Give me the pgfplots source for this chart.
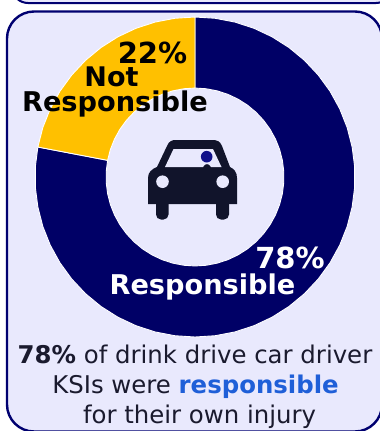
\documentclass[border=0pt]{standalone}
\usepackage{pgfplots}
\usepackage{pgfplotstable}
\usepackage{fontspec}
\setmainfont{DejaVu Sans}
\pgfplotsset{compat=1.18}
\usepgfplotslibrary{polar}
\definecolor{panelfill}{HTML}{E9E9FD}
\definecolor{panelline}{HTML}{000070}
\definecolor{resp}{HTML}{000066}
\definecolor{notresp}{HTML}{FFC000}
\definecolor{carbody}{HTML}{11142B}
\definecolor{driver}{HTML}{10108A}
\definecolor{bodytext}{HTML}{1A1A2E}
\definecolor{hilite}{HTML}{1F5FD8}
% Ring outlines: share of casualties (clockwise from the top) and radius
\pgfplotstableread{
pct r
0 1
2 1
4 1
6 1
8 1
10 1
12 1
14 1
16 1
18 1
20 1
22 1
24 1
26 1
28 1
30 1
32 1
34 1
36 1
38 1
40 1
42 1
44 1
46 1
48 1
50 1
52 1
54 1
56 1
58 1
60 1
62 1
64 1
66 1
68 1
70 1
72 1
74 1
76 1
78 1
78 0.556
76 0.556
74 0.556
72 0.556
70 0.556
68 0.556
66 0.556
64 0.556
62 0.556
60 0.556
58 0.556
56 0.556
54 0.556
52 0.556
50 0.556
48 0.556
46 0.556
44 0.556
42 0.556
40 0.556
38 0.556
36 0.556
34 0.556
32 0.556
30 0.556
28 0.556
26 0.556
24 0.556
22 0.556
20 0.556
18 0.556
16 0.556
14 0.556
12 0.556
10 0.556
8 0.556
6 0.556
4 0.556
2 0.556
0 0.556
}\responsible
\pgfplotstableread{
pct r
78 1
80 1
82 1
84 1
86 1
88 1
90 1
92 1
94 1
96 1
98 1
100 1
100 0.556
98 0.556
96 0.556
94 0.556
92 0.556
90 0.556
88 0.556
86 0.556
84 0.556
82 0.556
80 0.556
78 0.556
}\notresponsible
\begin{document}
\begin{tikzpicture}[x=1pt,y=-1pt]
\useasboundingbox (0,0) rectangle (380,431);
\clip (0,0) rectangle (380,431);
\fill[white] (0,0) rectangle (380,431);
% panels
\draw[panelline,line width=2pt,fill=panelfill,rounded corners=16pt] (12,-30) rectangle (392,3);
\draw[panelline,line width=2.4pt,fill=panelfill,rounded corners=27pt] (7,11.5) rectangle (382,431.5);
% ring
\begin{polaraxis}[
  at={(195pt,-177pt)},anchor=center,
  scale only axis,width=320pt,height=320pt,
  hide axis,ymin=0,ymax=1,clip=false]
\addplot[draw=white,line width=0.9pt,fill=resp]
  table[x expr={90-3.6*\thisrow{pct}},y=r]{\responsible}--cycle;
\addplot[draw=white,line width=0.9pt,fill=notresp]
  table[x expr={90-3.6*\thisrow{pct}},y=r]{\notresponsible}--cycle;
\end{polaraxis}
% car icon
\fill[carbody] (148,204) -- (148,178) .. controls (148,172) and (152,169) .. (157,167) -- (167,146) .. controls (169,141) and (172,140) .. (176,140)
  -- (212,140) .. controls (217,140) and (220,141) .. (222,146) -- (230,167) .. controls (234,169) and (237,172) .. (237,178) -- (237,204) -- cycle;
\fill[carbody,rounded corners=5pt] (156,198) rectangle (168.5,219.5);
\fill[carbody,rounded corners=5pt] (216,198) rectangle (229,219.5);
\fill[panelfill] (165,167) -- (173.5,149) -- (213,149) -- (221.5,167) -- (211,167) .. controls (209,163) and (205,163) .. (203,167) -- cycle;
\fill[panelfill] (162.5,181.7) circle[radius=6.3];
\fill[panelfill] (222.7,181.7) circle[radius=6.3];
\fill[driver] (206.7,156.7) circle[radius=5.8];
% labels
\node[anchor=base,inner sep=0pt,font=\fontsize{29}{29}\selectfont\bfseries] at (152.5,63) {22\%};
\node[anchor=base,inner sep=0pt,font=\fontsize{27}{27}\selectfont\bfseries] at (111.5,86) {Not};
\node[anchor=base,inner sep=0pt,font=\fontsize{27.2}{27}\selectfont\bfseries] at (115,111) {Responsible};
\node[anchor=base,inner sep=0pt,text=white,font=\fontsize{29}{29}\selectfont\bfseries] at (290,268) {78\%};
\node[anchor=base,inner sep=0pt,text=white,font=\fontsize{27.2}{27}\selectfont\bfseries] at (202.5,294) {Responsible};
% caption
\node[anchor=base,inner sep=0pt,text=bodytext,font=\fontsize{24.4}{24}\selectfont] at (195,363) {\textbf{78\%} of drink drive car driver};
\node[anchor=base,inner sep=0pt,text=bodytext,font=\fontsize{24.4}{24}\selectfont] at (195.5,393) {KSIs were \textcolor{hilite}{\textbf{responsible}}};
\node[anchor=base,inner sep=0pt,text=bodytext,font=\fontsize{24.4}{24}\selectfont] at (199.5,423) {for their own injury};
\end{tikzpicture}
\end{document}
